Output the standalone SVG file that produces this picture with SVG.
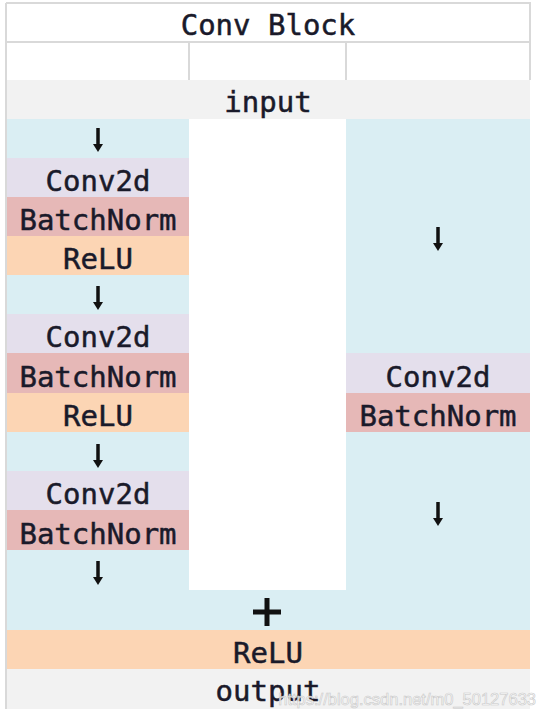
<svg xmlns="http://www.w3.org/2000/svg" width="547" height="720" viewBox="0 0 547 720">
<style>
.t{font-family:"DejaVu Sans Mono","Liberation Mono",monospace;font-size:29px;fill:#1a1a2a;stroke:#1a1a2a;stroke-width:0.5;text-anchor:middle}
.grid{stroke:#d9d9d9;stroke-width:2;fill:none}
.blue{fill:#daeef3}.lav{fill:#e4dfec}.bn{fill:#e6b8b7}.relu{fill:#fcd5b4}.gray{fill:#f2f2f2}
.arr{stroke:#111;stroke-width:3.5;fill:none}
.ah{fill:#111}
</style>
<defs>
<g id="arrow">
<line class="arr" x1="0" y1="-12" x2="0" y2="5"/>
<polygon class="ah" points="-5,4 5,4 0,12"/>
</g>
</defs>
<rect width="547" height="720" fill="#ffffff"/>
<g id="header">
<path class="grid" d="M6,3 H530 V80 M6,42 H530 M189,42 V80 M346,42 V80"/>
<text class="t" x="268" y="35">Conv Block</text>
</g>
<g id="input">
<rect class="gray" x="7" y="80" width="523" height="39"/>
<text class="t" x="268" y="112">input</text>
</g>
<g id="left-branch">
<rect class="blue" x="7" y="119" width="182" height="39"/>
<rect id="conv1" class="lav" x="7" y="158" width="182" height="39"/>
<rect id="bn1" class="bn" x="7" y="197" width="182" height="39"/>
<rect id="relu1" class="relu" x="7" y="236" width="182" height="39"/>
<rect class="blue" x="7" y="275" width="182" height="39"/>
<rect id="conv2" class="lav" x="7" y="314" width="182" height="39"/>
<rect id="bn2" class="bn" x="7" y="353" width="182" height="40"/>
<rect id="relu2" class="relu" x="7" y="393" width="182" height="39"/>
<rect class="blue" x="7" y="432" width="182" height="39"/>
<rect id="conv3" class="lav" x="7" y="471" width="182" height="39"/>
<rect id="bn3" class="bn" x="7" y="510" width="182" height="40"/>
<rect class="blue" x="7" y="550" width="182" height="40"/>
<text class="t" x="98" y="191">Conv2d</text>
<text class="t" x="98" y="230">BatchNorm</text>
<text class="t" x="98" y="269">ReLU</text>
<text class="t" x="98" y="347">Conv2d</text>
<text class="t" x="98" y="387">BatchNorm</text>
<text class="t" x="98" y="426">ReLU</text>
<text class="t" x="98" y="504">Conv2d</text>
<text class="t" x="98" y="544">BatchNorm</text>
</g>
<g id="right-branch">
<rect class="blue" x="346" y="119" width="184" height="234"/>
<rect id="conv-s" class="lav" x="346" y="353" width="184" height="40"/>
<rect id="bn-s" class="bn" x="346" y="393" width="184" height="39"/>
<rect class="blue" x="346" y="432" width="184" height="158"/>
<text class="t" x="438" y="387">Conv2d</text>
<text class="t" x="438" y="426">BatchNorm</text>
</g>
<g id="add">
<rect class="blue" x="7" y="590" width="523" height="40"/>
<path d="M253,612 H281 M267,598 V626" stroke="#111" stroke-width="5" fill="none"/>
</g>
<g id="relu-out">
<rect class="relu" x="7" y="630" width="523" height="39"/>
<text class="t" x="268" y="663">ReLU</text>
</g>
<g id="output">
<rect class="gray" x="7" y="669" width="523" height="40"/>
<text class="t" x="268" y="701">output</text>
</g>
<g id="connectors">
<use href="#arrow" x="98" y="140"/>
<use href="#arrow" x="98" y="298"/>
<use href="#arrow" x="98" y="456"/>
<use href="#arrow" x="98" y="573"/>
<use href="#arrow" x="438" y="239"/>
<use href="#arrow" x="438" y="514"/>
</g>
<line class="grid" x1="6" y1="3" x2="6" y2="709"/>
<text x="536" y="705" font-family="Liberation Sans, Arial, sans-serif" font-size="16.5" text-anchor="end" fill="#ffffff" fill-opacity="0.85" stroke="#c8c8c8" stroke-width="0.6">https://blog.csdn.net/m0_50127633</text>
</svg>
